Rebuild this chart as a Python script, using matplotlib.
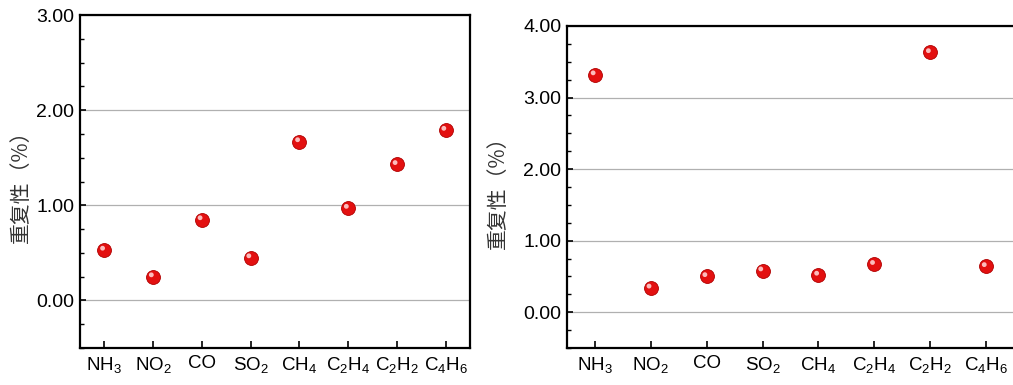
import matplotlib
matplotlib.use("Agg")
import matplotlib.pyplot as plt
from matplotlib.transforms import offset_copy
from matplotlib.ticker import MultipleLocator, FormatStrFormatter

plt.rcParams['font.family'] = ['Liberation Sans', 'DejaVu Sans']
plt.rcParams['mathtext.fontset'] = 'custom'
plt.rcParams['mathtext.rm'] = 'Liberation Sans'
plt.rcParams['mathtext.it'] = 'Liberation Sans'

categories = [r'$\mathrm{NH_3}$', r'$\mathrm{NO_2}$', 'CO', r'$\mathrm{SO_2}$',
              r'$\mathrm{CH_4}$', r'$\mathrm{C_2H_4}$', r'$\mathrm{C_2H_2}$', r'$\mathrm{C_4H_6}$']
left_values = [0.53, 0.25, 0.85, 0.45, 1.67, 0.97, 1.43, 1.79]
right_values = [3.32, 0.34, 0.50, 0.58, 0.52, 0.67, 3.63, 0.64]
ylabel = '重复性（%）'

fig = plt.figure(figsize=(10.13, 3.85), dpi=100)
W, H = 1013, 385

def make_axes(x0, x1, ytop, ybot):
    return fig.add_axes([x0 / W, (H - ybot) / H, (x1 - x0) / W, (ybot - ytop) / H])

ax1 = make_axes(80, 470, 15, 348)
ax2 = make_axes(567, 1014, 26, 348)

def style(ax, values, ymax, labelx):
    x = list(range(len(values)))
    ax.set_xlim(-0.5, len(values) - 0.5)
    ax.set_ylim(-0.5, ymax)
    ax.yaxis.set_major_locator(MultipleLocator(1.0))
    ax.yaxis.set_minor_locator(MultipleLocator(0.25))
    ax.yaxis.set_major_formatter(FormatStrFormatter('%.2f'))
    ax.set_xticks(x)
    ax.set_xticklabels(categories, fontsize=13.5)
    ax.tick_params(axis='y', which='major', direction='in', length=4, width=1.2, labelsize=14, pad=4)
    ax.tick_params(axis='y', which='minor', direction='in', length=3, width=1.0)
    ax.tick_params(axis='x', which='major', direction='in', length=5, width=1.2, pad=5)
    for s in ax.spines.values():
        s.set_linewidth(1.6)
    ax.grid(axis='y', which='major', color='#b0b0b0', linewidth=0.9)
    ax.set_axisbelow(True)
    ax.scatter(x, values, s=100, color='#e31010', edgecolors='#b00000', linewidths=0.6, zorder=3)
    hl = offset_copy(ax.transData, fig=fig, x=-1.8, y=1.8, units='dots')
    ax.scatter(x, values, s=12, color='#ffd0d0', edgecolors='none', alpha=0.9, transform=hl, zorder=4)
    ax.set_ylabel(ylabel, family=['Noto Sans CJK SC', 'DejaVu Sans'], fontsize=15, color='#333333')
    ax.yaxis.set_label_coords(labelx, 0.5)

style(ax1, left_values, 3.0, -0.122)
style(ax2, right_values, 4.0, -0.13)

fig.savefig('out.png', dpi=100)
